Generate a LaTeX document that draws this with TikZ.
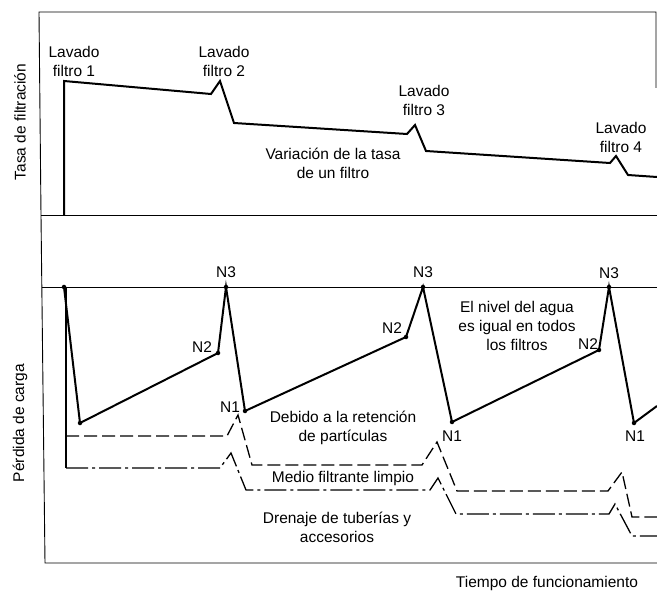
\documentclass[tikz,border=0pt]{standalone}
\usepackage{fontspec}
\setmainfont{Liberation Sans}
\begin{document}
\begin{tikzpicture}[x=1pt,y=-1pt,
  lbl/.style={font=\fontsize{15.5}{19}\selectfont, align=center, inner sep=0pt},
  frame/.style={line width=0.9pt},
  curve/.style={line width=2pt, line join=miter},
  dashcurve/.style={line width=1.3pt, dash pattern=on 13pt off 5pt},
  dotcurve/.style={line width=1.3pt, dash pattern=on 22pt off 4pt on 3pt off 4pt},
  vtx/.style={circle, fill=black, inner sep=0pt, minimum size=4.5pt}]
\useasboundingbox (0,0) rectangle (657,591);

% frames
\coordinate (tl) at (39,12);
\coordinate (tr) at (656,12);
\coordinate (tre) at (656,88);
\coordinate (ml) at (41,215);
\coordinate (mr) at (657,215);
\coordinate (nl) at (42,287);
\coordinate (nr) at (657,287);
\coordinate (bl) at (45,563);
\coordinate (br) at (657,563);
\draw[frame] (tre) -- (tr) -- (tl) -- (ml) -- (bl) -- (br);
\draw[frame] (ml) -- (mr);
\draw[frame] (nl) -- (nr);

% top curve: filtration rate
\coordinate (r0) at (64,215);
\coordinate (r1) at (64,81);
\coordinate (r2) at (211,94);
\coordinate (r3) at (220,81);
\coordinate (r4) at (234,123);
\coordinate (r5) at (407,134);
\coordinate (r6) at (415,125);
\coordinate (r7) at (426,151);
\coordinate (r8) at (610,163);
\coordinate (r9) at (616,156);
\coordinate (r10) at (628,175);
\coordinate (r11) at (657,177);
\draw[curve] (r0) -- (r1) -- (r2) -- (r3) -- (r4) -- (r5) -- (r6) -- (r7) -- (r8) -- (r9) -- (r10) -- (r11);

% head loss sawtooth
\node[vtx] (s0) at (64,287) {};
\node[vtx] (s1) at (80,423) {};
\node[vtx] (s2) at (218,353) {};
\node[vtx] (s3) at (226,287) {};
\node[vtx] (s4) at (245,411) {};
\node[vtx] (s5) at (406,337) {};
\node[vtx] (s6) at (423,287) {};
\node[vtx] (s7) at (452,422) {};
\node[vtx] (s8) at (599,350) {};
\node[vtx] (s9) at (609,287) {};
\node[vtx] (s10) at (634,423) {};
\coordinate (s11) at (657,406);
\draw[curve] (s0.center) -- (s1.center) -- (s2.center) -- (s3.center) -- (s4.center) -- (s5.center) -- (s6.center) -- (s7.center) -- (s8.center) -- (s9.center) -- (s10.center) -- (s11);

% vertical from start
\coordinate (v0) at (66,287);
\coordinate (v1) at (66,436);
\coordinate (v2) at (66,468);
\draw[line width=1.3pt] (v0) -- (v2);

% dashed: particle retention
\coordinate (d1) at (227,436);
\coordinate (d2) at (238,415);
\coordinate (d3) at (252,465);
\coordinate (d4) at (422,465);
\coordinate (d5) at (437,442);
\coordinate (d6) at (457,491);
\coordinate (d7) at (608,491);
\coordinate (d8) at (622,472);
\coordinate (d9) at (632,517);
\coordinate (d10) at (657,517);
\draw[dashcurve] (v1) -- (d1) -- (d2) -- (d3) -- (d4) -- (d5) -- (d6) -- (d7) -- (d8) -- (d9) -- (d10);

% dash-dot: clean medium
\coordinate (c1) at (220,468);
\coordinate (c2) at (231,453);
\coordinate (c3) at (246,490);
\coordinate (c4) at (430,490);
\coordinate (c5) at (438,478);
\coordinate (c6) at (456,514);
\coordinate (c7) at (609,514);
\coordinate (c8) at (615,504);
\coordinate (c9) at (632,536);
\coordinate (c10) at (657,536);
\draw[dotcurve] (v2) -- (c1) -- (c2) -- (c3) -- (c4) -- (c5) -- (c6) -- (c7) -- (c8) -- (c9) -- (c10);

% labels
\node[lbl] (lv1) at (74,61) {Lavado\\filtro 1};
\node[lbl] (lv2) at (224,61) {Lavado\\filtro 2};
\node[lbl] (lv3) at (424,100) {Lavado\\filtro 3};
\node[lbl] (lv4) at (621,137) {Lavado\\filtro 4};
\node[lbl] (var) at (333,163) {Variación de la tasa\\de un filtro};
\node[lbl] (niv) at (517,326) {El nivel del agua\\es igual en todos\\los filtros};
\node[lbl] (deb) at (343,428) {Debido a la retención\\de partículas};
\node[lbl] (med) at (343,478) {Medio filtrante limpio};
\node[lbl] (dre) at (337,527) {Drenaje de tuberías y\\accesorios};
\node[lbl] (tie) at (547,583) {Tiempo de funcionamiento};
\node[lbl, rotate=90] (tas) at (20,122) {Tasa de filtración};
\node[lbl, rotate=90] (per) at (20,423) {Pérdida de carga};

\node[lbl] (n3a) at (226,272) {N3};
\node[lbl] (n3b) at (423,272) {N3};
\node[lbl] (n3c) at (609,273) {N3};
\node[lbl] (n2a) at (202,347) {N2};
\node[lbl] (n2b) at (392,328) {N2};
\node[lbl] (n2c) at (588,344) {N2};
\node[lbl] (n1a) at (230,407) {N1};
\node[lbl] (n1b) at (452,436) {N1};
\node[lbl] (n1c) at (635,436) {N1};
\end{tikzpicture}
\end{document}
